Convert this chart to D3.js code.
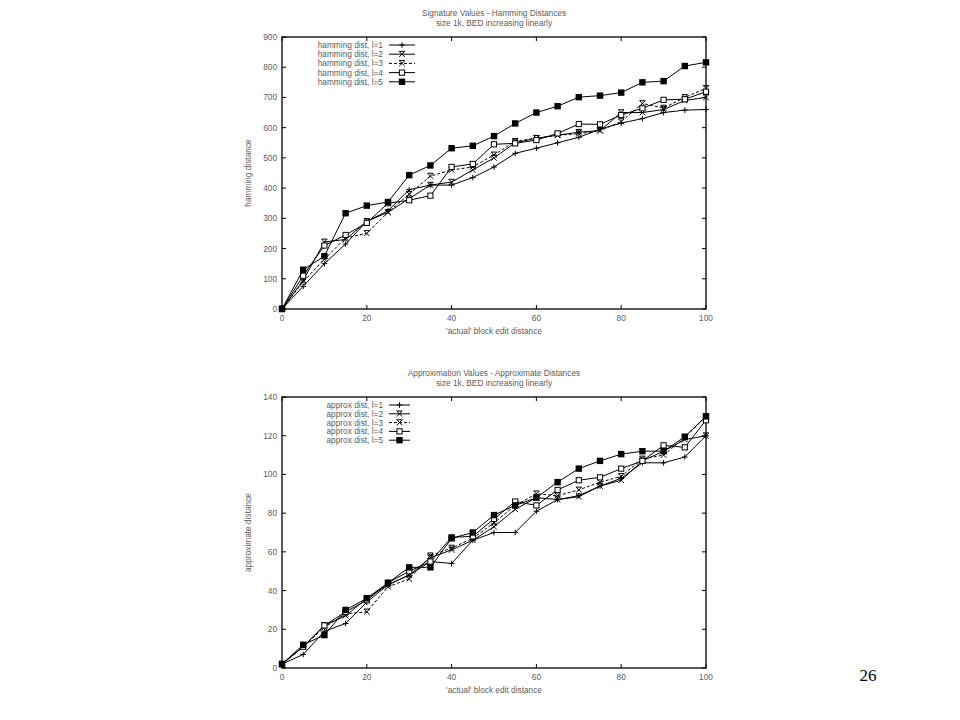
<!DOCTYPE html>
<html lang="en">
<head>
<meta charset="UTF-8">
<title>Signature / Approximation values</title>
<script src="https://d3js.org/d3.v7.min.js"></script>
<style>
  body { margin: 0; background: #fff; }
  svg text { font-family: "Liberation Sans", Arial, sans-serif; }
</style>
</head>
<body>
<script>
// actual block edit distance (x)
var bed = [0, 5, 10, 15, 20, 25, 30, 35, 40, 45, 50, 55, 60, 65, 70, 75, 80, 85, 90, 95, 100];

// hamming distances, l = 1..5
var ham1 = [0, 75, 150, 215, 290, 325, 395, 410, 410, 435, 470, 515, 532, 550, 568, 595, 615, 630, 650, 658, 660];
var ham2 = [0, 95, 222, 230, 290, 320, 365, 410, 420, 460, 500, 550, 565, 575, 585, 590, 650, 650, 660, 690, 700];
var ham3 = [0, 90, 165, 235, 250, 320, 380, 440, 460, 470, 510, 555, 565, 575, 580, 590, 620, 680, 665, 700, 730];
var ham4 = [0, 110, 210, 245, 285, 350, 360, 375, 470, 480, 545, 548, 559, 581, 612, 611, 642, 664, 692, 694, 719];
var ham5 = [0, 130, 175, 317, 342, 354, 443, 475, 532, 540, 572, 614, 650, 671, 701, 706, 716, 750, 754, 804, 816];

// approximate distances, l = 1..5
var apx1 = [2, 7, 19, 23, 34, 43, 48, 55, 54, 66, 70, 70, 81, 87, 89, 94, 98, 106, 106, 109, 120];
var apx2 = [2, 11, 22, 27, 36, 43, 48, 57, 61, 66, 73, 82, 88, 87, 88.5, 94, 97, 107, 112, 118, 120];
var apx3 = [2, 11, 21, 28, 29, 42, 46, 58, 62, 67, 75, 84, 90, 89, 92, 96, 99, 108, 110, 119, 130];
var apx4 = [2, 11, 22, 29, 35, 44, 50, 55, 67.5, 68, 77, 86, 84, 92, 97, 98.5, 103, 107, 115, 114, 128];
var apx5 = [2, 12, 17, 30, 36, 44, 52, 52, 67, 70, 79, 84, 88, 96, 103, 107, 110.5, 112, 112, 119.5, 130];

var xTicks = [0, 20, 40, 60, 80, 100];
var hamTicks = [0, 100, 200, 300, 400, 500, 600, 700, 800, 900];
var apxTicks = [0, 20, 40, 60, 80, 100, 120, 140];

var markers = ["plus", "cross", "cross", "box", "fbox"];
var dashed = [false, false, true, false, false];

var W = 960, H = 720;
var svg = d3.select("body").append("svg").attr("width", W).attr("height", H);

var txtCol = "#5c5c58";

function marker(g, type, cx, cy) {
    var s = 2.8;
    if (type === "plus") {
        g.append("path").attr("d", "M" + (cx - s) + "," + cy + "H" + (cx + s) + "M" + cx + "," + (cy - s) + "V" + (cy + s))
            .attr("stroke", "#000").attr("stroke-width", 1).attr("fill", "none");
    } else if (type === "cross") {
        g.append("path").attr("d", "M" + (cx - s) + "," + (cy - s) + "L" + (cx + s) + "," + (cy + s) +
                "M" + (cx + s) + "," + (cy - s) + "L" + (cx - s) + "," + (cy + s) +
                "M" + (cx - s) + "," + (cy - s) + "H" + (cx + s))
            .attr("stroke", "#000").attr("stroke-width", 1).attr("fill", "none");
    } else if (type === "box") {
        g.append("rect").attr("x", cx - 2.6).attr("y", cy - 2.6).attr("width", 5.2).attr("height", 5.2)
            .attr("fill", "#fff").attr("stroke", "#000").attr("stroke-width", 1);
    } else {
        g.append("rect").attr("x", cx - 3.2).attr("y", cy - 3.2).attr("width", 6.4).attr("height", 6.4)
            .attr("fill", "#000");
    }
}

function panel(opt) {
    var g = svg.append("g");
    var x = d3.scaleLinear().domain([0, 100]).range([opt.left, opt.right]);
    var y = d3.scaleLinear().domain([0, opt.ymax]).range([opt.bottom, opt.top]);

    // titles
    g.append("text").attr("x", 494).attr("y", opt.top - 21).attr("text-anchor", "middle")
        .attr("font-size", 8.3).attr("fill", txtCol).text(opt.title1);
    g.append("text").attr("x", 494).attr("y", opt.top - 11).attr("text-anchor", "middle")
        .attr("font-size", 8.3).attr("fill", txtCol).text(opt.title2);

    // frame
    g.append("rect").attr("x", opt.left).attr("y", opt.top)
        .attr("width", opt.right - opt.left).attr("height", opt.bottom - opt.top)
        .attr("fill", "none").attr("stroke", "#000").attr("stroke-width", 1.3);

    var tl = 4;
    // y ticks (left + right, inward)
    opt.yticks.forEach(function(v) {
        var yy = y(v);
        g.append("line").attr("x1", opt.left).attr("x2", opt.left + tl).attr("y1", yy).attr("y2", yy).attr("stroke", "#000");
        g.append("line").attr("x1", opt.right).attr("x2", opt.right - tl).attr("y1", yy).attr("y2", yy).attr("stroke", "#000");
        g.append("text").attr("x", opt.left - 5).attr("y", yy + 3).attr("text-anchor", "end")
            .attr("font-size", 8.3).attr("fill", txtCol).text(v);
    });
    // x ticks (bottom + top, inward)
    xTicks.forEach(function(v) {
        var xx = x(v);
        g.append("line").attr("x1", xx).attr("x2", xx).attr("y1", opt.bottom).attr("y2", opt.bottom - tl).attr("stroke", "#000");
        g.append("line").attr("x1", xx).attr("x2", xx).attr("y1", opt.top).attr("y2", opt.top + tl).attr("stroke", "#000");
        g.append("text").attr("x", xx).attr("y", opt.bottom + 12).attr("text-anchor", "middle")
            .attr("font-size", 8.3).attr("fill", txtCol).text(v);
    });

    g.append("text").attr("x", 494).attr("y", opt.bottom + 25).attr("text-anchor", "middle")
        .attr("font-size", 8.3).attr("fill", txtCol).text("'actual' block edit distance");
    g.append("text").attr("transform", "translate(251," + ((opt.top + opt.bottom) / 2) + ") rotate(-90)")
        .attr("text-anchor", "middle").attr("font-size", 8.3).attr("fill", txtCol).text(opt.ylabel);

    var line = d3.line().x(function(d, i) { return x(bed[i]); }).y(function(d) { return y(d); });

    opt.series.forEach(function(s, k) {
        g.append("path").datum(s).attr("d", line).attr("fill", "none").attr("stroke", "#000")
            .attr("stroke-width", 1).attr("stroke-dasharray", dashed[k] ? "3,2" : null);
        s.forEach(function(v, i) { marker(g, markers[k], x(bed[i]), y(v)); });

        // legend
        var ly = opt.legTop + k * opt.legStep;
        g.append("text").attr("x", 383).attr("y", ly + 3).attr("text-anchor", "end")
            .attr("font-size", 8.3).attr("fill", txtCol).text(opt.legName + ", l=" + (k + 1));
        g.append("line").attr("x1", 389).attr("x2", opt.legEnd).attr("y1", ly).attr("y2", ly)
            .attr("stroke", "#000").attr("stroke-width", 1).attr("stroke-dasharray", dashed[k] ? "3,2" : null);
        marker(g, markers[k], (389 + opt.legEnd) / 2, ly);
    });
}

panel({
    left: 282, right: 706, top: 37, bottom: 309, ymax: 900, yticks: hamTicks,
    title1: "Signature Values - Hamming Distances",
    title2: "size 1k, BED increasing linearly",
    ylabel: "hamming distance", legName: "hamming dist",
    legTop: 45, legStep: 9.2, legEnd: 415,
    series: [ham1, ham2, ham3, ham4, ham5]
});

panel({
    left: 282, right: 706, top: 397, bottom: 668, ymax: 140, yticks: apxTicks,
    title1: "Approximation Values - Approximate Distances",
    title2: "size 1k, BED increasing linearly",
    ylabel: "approximate distance", legName: "approx dist",
    legTop: 405, legStep: 8.8, legEnd: 410,
    series: [apx1, apx2, apx3, apx4, apx5]
});

svg.append("text").attr("x", 868).attr("y", 681).attr("text-anchor", "middle")
    .style("font-family", "'Liberation Serif', 'Times New Roman', serif").attr("font-size", 17)
    .attr("fill", "#000").text("26");
</script>
</body>
</html>
